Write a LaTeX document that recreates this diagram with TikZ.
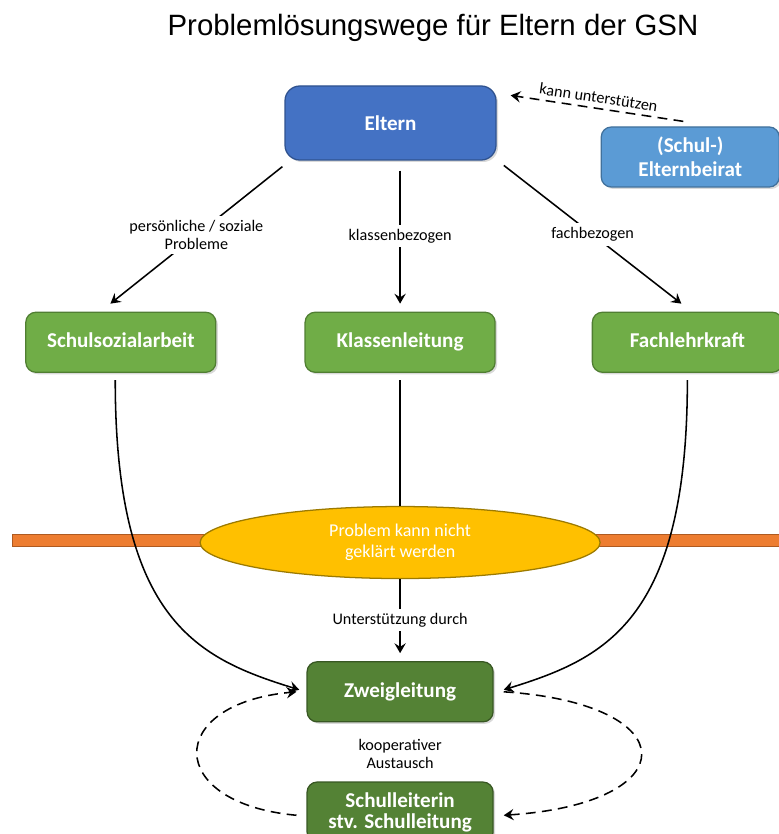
\documentclass[tikz,border=0pt]{standalone}
\usepackage{fontspec}
\setmainfont{Carlito}
\newfontfamily\titlefont{Liberation Sans}
\usetikzlibrary{positioning,arrows.meta,shapes.geometric,shadows}
\definecolor{eltblue}{HTML}{4472C4}
\definecolor{eltblueline}{HTML}{2F528F}
\definecolor{beiratblue}{HTML}{5B9BD5}
\definecolor{beiratline}{HTML}{41719C}
\definecolor{lightgreen}{HTML}{70AD47}
\definecolor{lightgreenline}{HTML}{507E32}
\definecolor{darkgreen}{HTML}{548235}
\definecolor{darkgreenline}{HTML}{385723}
\definecolor{probyellow}{HTML}{FFC000}
\definecolor{probline}{HTML}{9C7A00}
\definecolor{barorange}{HTML}{ED7D31}
\definecolor{barline}{HTML}{AE5A21}
\tikzset{
	mybox/.style={rectangle,rounded corners=0.25cm,text=white,align=center,
		font=\bfseries\fontsize{15}{15}\selectfont,line width=0.9pt,
		minimum width=4.75cm,minimum height=1.5cm,
		drop shadow={shadow xshift=0.05cm,shadow yshift=-0.05cm,opacity=0.3}},
	eltbox/.style={mybox,fill=eltblue,draw=eltblueline,rounded corners=0.37cm,
		minimum width=5.275cm,minimum height=1.85cm},
	beiratbox/.style={mybox,fill=beiratblue,draw=beiratline,minimum width=4.45cm,
		font=\bfseries\fontsize{15}{17}\selectfont},
	greenbox/.style={mybox,fill=lightgreen,draw=lightgreenline,text height=2.1ex,text depth=0.6ex},
	leitbox/.style={mybox,fill=darkgreen,draw=darkgreenline,minimum width=4.65cm},
	probnode/.style={ellipse,fill=probyellow,draw=probline,line width=0.9pt,text=white,
		align=center,inner sep=0pt,minimum width=10cm,minimum height=1.8cm,
		font=\fontsize{12.8}{15}\selectfont},
	mylabel/.style={fill=white,align=center,inner sep=3pt,font=\fontsize{11.5}{13}\selectfont},
	myarrow/.style={-{Stealth[length=7pt,width=8pt,inset=2.5pt]},line width=1.1pt},
	myline/.style={line width=1.1pt},
	mydash/.style={myarrow,dash pattern=on 7pt off 4.5pt}
}
\begin{document}
\begin{tikzpicture}[node distance=1cm]
	\useasboundingbox (0,0) rectangle (19.45,-20.85);
	% orange bar behind the ellipse
	\filldraw[fill=barorange,draw=barline,line width=0.6pt] (0.3,-13.35) rectangle (19.8,-13.65);
	\node[font=\titlefont\fontsize{20.9}{25}\selectfont](title) at (10.825,-0.7){Problemlösungswege für Eltern der GSN};
	\node[eltbox](eltern) at (9.7625,-3.075){Eltern};
	\node[beiratbox, right = 2.6cm of eltern, yshift = -0.85cm](beirat){(Schul-)\\Elternbeirat};
	\node[greenbox, below = 3.775cm of eltern, xshift = 0.24cm](klassen){Klassenleitung};
	\node[greenbox, left = 2.2cm of klassen](sozial){Schulsozialarbeit};
	\node[greenbox, right = 2.4cm of klassen](fach){Fachlehrkraft};
	\node[probnode, below = 3.325cm of klassen](problem){Problem kann nicht\\geklärt werden};
	\node[leitbox, below = 2.05cm of problem](zweig){Zweigleitung};
	\node[leitbox, below = 1.475cm of zweig](leitung){Schulleiterin\\stv. Schulleitung};
	% from the parents
	\draw[myarrow] ([xshift=-0.05cm,yshift=-0.15cm]eltern.south west) -- ([xshift=-0.26cm,yshift=0.2cm]sozial.north) node[mylabel,midway]{persönliche / soziale\\Probleme};
	\draw[myarrow, shorten <=0.25cm, shorten >=0.2cm] (klassen.north |- eltern.south) -- (klassen.north) node[mylabel,midway]{klassenbezogen};
	\draw[myarrow] ([xshift=0.18cm,yshift=-0.12cm]eltern.south east) -- ([xshift=-0.15cm,yshift=0.2cm]fach.north) node[mylabel,midway]{fachbezogen};
	\draw[mydash] ([xshift=-0.175cm,yshift=0.125cm]beirat.north) -- ([xshift=0.35cm,yshift=-0.25cm]eltern.north east) node[midway,sloped,above,font=\fontsize{11.5}{13}\selectfont]{kann unterstützen};
	% down to the Zweigleitung
	\draw[myline, shorten <=0.18cm] (klassen) -- (problem);
	\draw[myarrow, shorten >=0.2cm] (problem) -- (zweig) node[mylabel,midway]{Unterstützung durch};
	\draw[myarrow] ([xshift=-0.14cm,yshift=-0.18cm]sozial.south) .. controls +(0,-6.05) and +(-2.5,0.775) .. ([xshift=-0.18cm,yshift=0.05cm]zweig.west);
	\draw[myarrow] ([yshift=-0.18cm]fach.south) .. controls +(0,-6.05) and +(2.5,0.775) .. ([xshift=0.25cm,yshift=0.05cm]zweig.east);
	% exchange
	\draw[mydash] ([xshift=0.25cm]zweig.east) .. controls +(4.575,-0.3) and +(4.575,0.3) .. ([xshift=0.25cm,yshift=-0.08cm]leitung.east);
	\draw[mydash] ([xshift=-0.25cm,yshift=-0.08cm]leitung.west) .. controls +(-3.3,0.3) and +(-3.3,-0.3) .. ([xshift=-0.25cm]zweig.west);
	\node[mylabel, fill=none, below = 0.3cm of zweig](austausch){kooperativer\\Austausch};
\end{tikzpicture}
\end{document}
